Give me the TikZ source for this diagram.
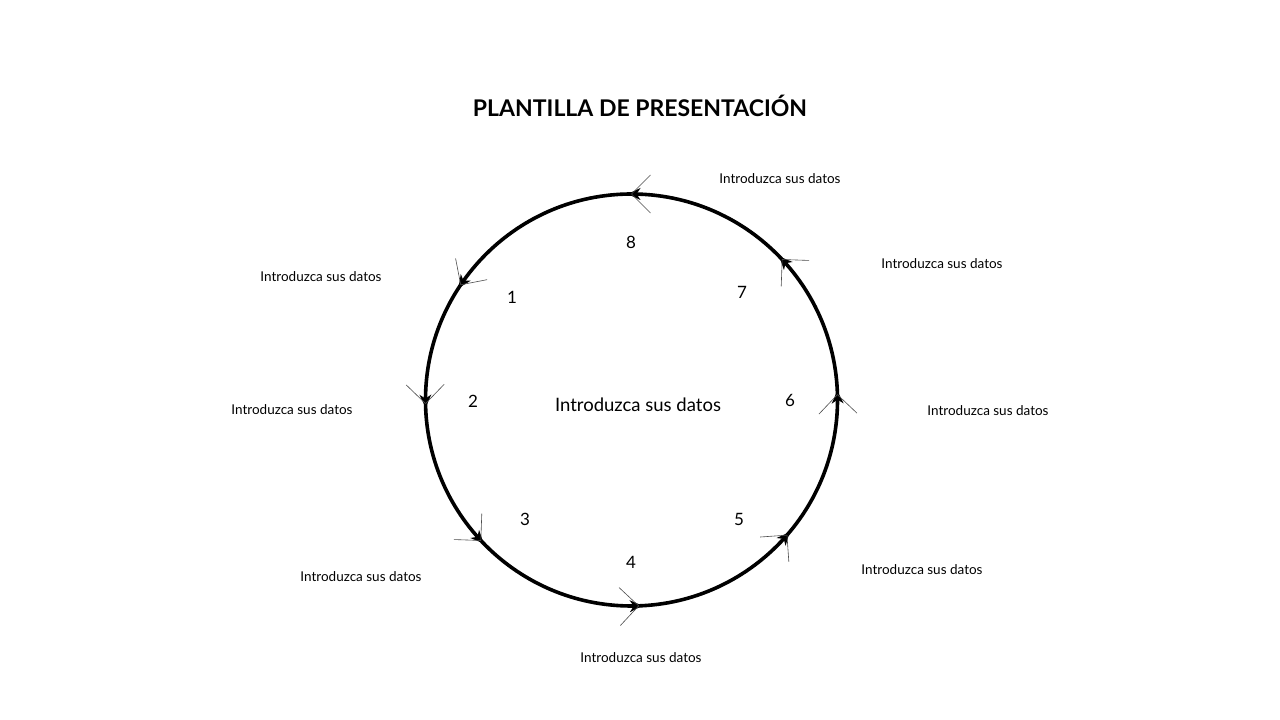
\documentclass[tikz,border=0pt]{standalone}
\usepackage{fontspec}
\setmainfont{Lato}
\usetikzlibrary{calc}
\begin{document}
\begin{tikzpicture}[x=1pt,y=1pt,
  lbl/.style={font=\fontsize{13.5}{15}\selectfont, text=black, inner sep=0},
  num/.style={font=\fontsize{17}{19}\selectfont, inner sep=0},
  cycarrow/.pic={
    \fill[black] (4,0) -- (-9,6) -- (-5,0) -- (-9,-6) -- cycle;
    \draw[line width=0.6pt, black!70] (0,0) -- (-19,19);
    \draw[line width=0.6pt, black!70] (0,0) -- (-19,-19);
  }]
\useasboundingbox (0,0) rectangle (1280,720);
\fill[white] (0,0) rectangle (1280,720);
\coordinate (c) at (631.5,320);
\node[font=\bfseries\fontsize{23}{26}\selectfont] (title) at (640,614) {PLANTILLA DE PRESENTACIÓN};
\draw[line width=3.6pt] (c) circle (206);
\foreach \a/\n in {90/a8,146/a1,181/a2,223/a3,272/a4,319/a5,1.5/a6,43/a7}{
  \pic[rotate=\a+90] (\n) at ($(c)+(\a:206)$) {cycarrow};
}
\node[font=\fontsize{18.5}{20}\selectfont] (center) at (638,315) {Introduzca sus datos};
\node[num] (n8) at (631,478) {8};
\node[num] (n1) at (512,423) {1};
\node[num] (n2) at (473,319) {2};
\node[num] (n3) at (525,201) {3};
\node[num] (n4) at (631,158) {4};
\node[num] (n5) at (739,201) {5};
\node[num] (n6) at (790,320) {6};
\node[num] (n7) at (742,428) {7};
\node[lbl] (l8) at (780,541) {Introduzca sus datos};
\node[lbl] (l7) at (942,456) {Introduzca sus datos};
\node[lbl] (l1) at (321,443) {Introduzca sus datos};
\node[lbl] (l2) at (292,310) {Introduzca sus datos};
\node[lbl] (l6) at (988,309) {Introduzca sus datos};
\node[lbl] (l3) at (361,143) {Introduzca sus datos};
\node[lbl] (l5) at (922,150) {Introduzca sus datos};
\node[lbl] (l4) at (641,62) {Introduzca sus datos};
\end{tikzpicture}
\end{document}
